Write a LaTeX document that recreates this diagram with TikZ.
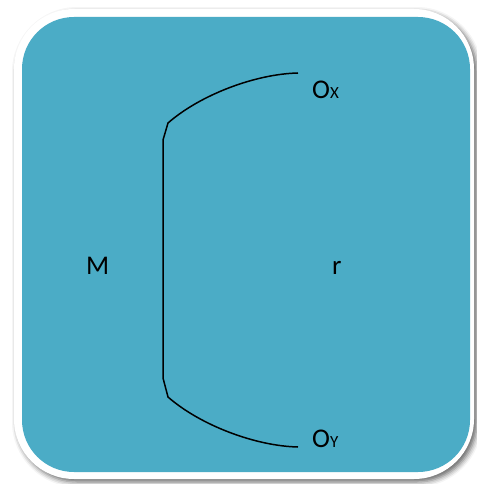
\documentclass[tikz,border=0pt]{standalone}
\usepackage{fontspec}
\setmainfont{Carlito}
\usetikzlibrary{shadows.blur}
\definecolor{aqua}{HTML}{4BACC6}
\tikzset{
  lbl/.style={inner sep=0pt, anchor=base west, font=\fontsize{27}{30}\selectfont},
  bracketline/.style={draw=black, line width=1.5pt, line join=round}
}
\begin{document}
\begin{tikzpicture}[x=1pt,y=-1pt]
\useasboundingbox (0,0) rectangle (476,484);
\fill[white, rounded corners=60pt, blur shadow={shadow xshift=3pt, shadow yshift=-3pt, shadow blur radius=5pt, shadow opacity=60}] (14,9) rectangle (474,479);
\fill[aqua, rounded corners=52pt] (22,17) rectangle (470,472);
\draw[bracketline] (298,73) .. controls (255,74) and (200,95) .. (168,123) -- (163,140) -- (163,378) -- (168,397) .. controls (200,425) and (255,446) .. (298,447);
\node[lbl] (M) at (86,274) {M};
\node[lbl] (r) at (332,274) {r};
\node[lbl] (OX) at (312,99) {O\fontsize{17}{19}\selectfont X};
\node[lbl] (OY) at (312,447) {O\fontsize{17}{19}\selectfont Y};
\end{tikzpicture}
\end{document}
